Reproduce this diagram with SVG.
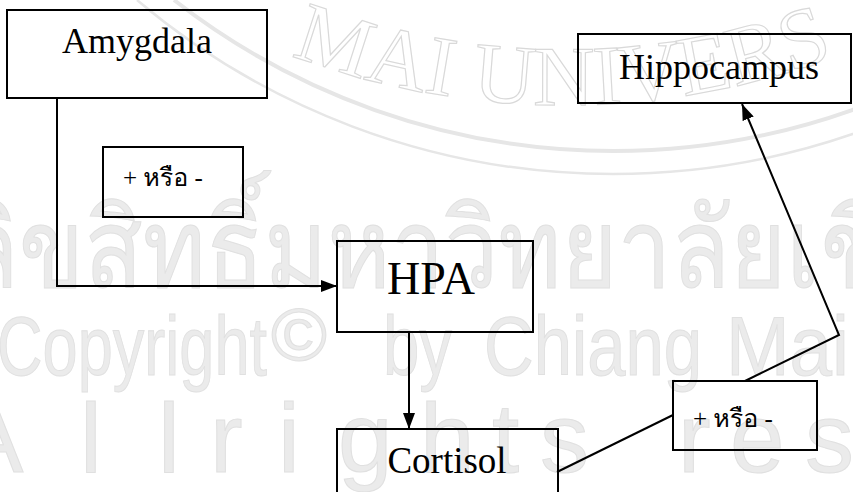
<svg xmlns="http://www.w3.org/2000/svg" width="853" height="492" viewBox="0 0 853 492">
  <style>
    .box { fill: none; stroke: #000; stroke-width: 2; }
    .lbl { font-family: "Liberation Serif", "Times New Roman", serif; fill: #000; }
    .th { font-family: "Liberation Serif", "Norasi", "Kinnari", "Loma", "Garuda", "Noto Serif Thai", "Noto Sans Thai", serif; font-size: 25px; fill: #000; }
    .wm { font-family: "Liberation Sans", "Loma", "Garuda", "Noto Sans Thai Looped", "Noto Sans Thai", sans-serif; fill: #ebebeb; stroke: #e0e0e0; stroke-width: 1; }
    .wmo { font-family: "Liberation Serif", serif; fill: none; stroke: #d9d9d9; stroke-width: 1.2; }
    .ring { fill: none; stroke: #e6e6e6; }
    .con { fill: none; stroke: #000; stroke-width: 2; }
  </style>
  <defs>
    <marker id="ah" viewBox="0 0 16 12" refX="16" refY="6" markerWidth="16" markerHeight="12" markerUnits="userSpaceOnUse" orient="auto">
      <path d="M0,0 L16,6 L0,12 Z" fill="#000"/>
    </marker>
    <path id="arcText" d="M 200,14 A 777,777 0 0 0 930,14"/>
  </defs>
  <rect width="853" height="492" fill="#fff"/>
  <g id="watermark">
    <path class="ring" d="M 174,0 A 715,715 0 0 0 1053,0" stroke-width="4"/>
    <path class="ring" d="M 137,0 A 738,738 0 0 0 1089,0" stroke-width="2.5"/>
    <text class="wmo" font-size="85"><textPath href="#arcText" startOffset="100">MAI UNIVERS</textPath></text>
    <text class="wm" x="-40" y="287" font-size="110" textLength="1200" lengthAdjust="spacingAndGlyphs">ลิขสิทธิ์มหาวิทยาลัยเชียงใหม่</text>
    <text class="wm" x="-3" y="375" font-size="84" textLength="270" lengthAdjust="spacingAndGlyphs">Copyright</text>
    <text class="wm" x="271" y="360" font-size="74" textLength="56" lengthAdjust="spacingAndGlyphs">©</text>
    <text class="wm" x="383" y="375" font-size="84" textLength="69" lengthAdjust="spacingAndGlyphs">by</text>
    <text class="wm" x="484" y="375" font-size="84" textLength="218" lengthAdjust="spacingAndGlyphs">Chiang</text>
    <text class="wm" x="726" y="375" font-size="84" textLength="123" lengthAdjust="spacingAndGlyphs">Mai</text>
    <text class="wm" y="472" font-size="98"><tspan x="-42">A</tspan><tspan x="80">l</tspan><tspan x="158">l</tspan><tspan x="210">r</tspan><tspan x="278">i</tspan><tspan x="338">g</tspan><tspan x="420">h</tspan><tspan x="492">t</tspan><tspan x="540">s</tspan><tspan x="678">r</tspan><tspan x="730">e</tspan><tspan x="805">s</tspan></text>
  </g>
  <g id="connectors">
    <path class="con" d="M57,99 V286 H337" marker-end="url(#ah)"/>
    <path class="con" d="M409,333 V429" marker-end="url(#ah)"/>
    <path class="con" d="M557,472 L673,415"/>
    <path class="con" d="M745,381 L839,335 L742,104" marker-end="url(#ah)"/>
  </g>
  <g id="amygdala">
    <rect class="box" x="7" y="10" width="260" height="88"/>
    <text class="lbl" x="137" y="53" font-size="36" text-anchor="middle">Amygdala</text>
  </g>
  <g id="label1">
    <rect class="box" x="103" y="147" width="140" height="70"/>
    <text class="th" x="123" y="186">+ หรือ -</text>
  </g>
  <g id="hpa">
    <rect class="box" x="337" y="241" width="196" height="91"/>
    <text class="lbl" x="431" y="294" font-size="46" text-anchor="middle">HPA</text>
  </g>
  <g id="cortisol">
    <rect class="box" x="337" y="429" width="221" height="80"/>
    <text class="lbl" x="447" y="473" font-size="37" text-anchor="middle">Cortisol</text>
  </g>
  <g id="label2">
    <rect class="box" x="673" y="381" width="144" height="69"/>
    <text class="th" x="693" y="427">+ หรือ -</text>
  </g>
  <g id="hippocampus">
    <rect class="box" x="578" y="34" width="273" height="69"/>
    <text class="lbl" x="719" y="79" font-size="36" text-anchor="middle">Hippocampus</text>
  </g>
</svg>
